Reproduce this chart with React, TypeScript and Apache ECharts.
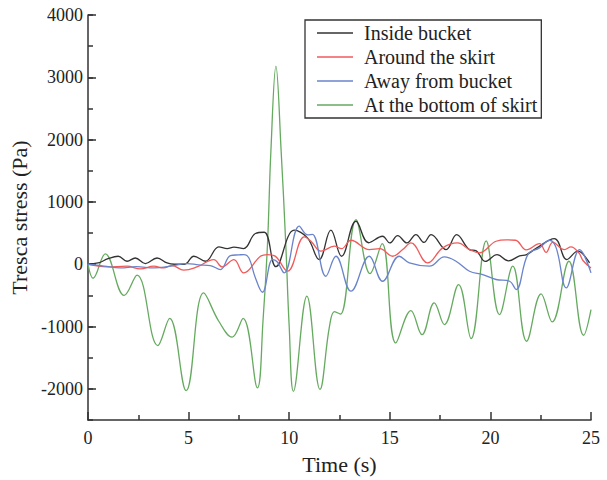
import React, { useEffect, useRef } from "react";
import * as echarts from "echarts";

const seriesNames = ["Inside bucket", "Around the skirt", "Away from bucket", "At the bottom of skirt"];
const seriesColors = ["#333333", "#f25a5a", "#6a84cc", "#66aa60"];

const xTickLabels = [0, 5, 10, 15, 20, 25];
const yTickLabels = [-2000, -1000, 0, 1000, 2000, 3000, 4000];

const insideT = [0, 0.5, 1.0, 1.5, 1.94, 2.35, 2.85, 3.43, 3.93, 4.3, 4.8, 5.26, 5.84, 6.5, 6.92, 7.25, 7.74, 8.32, 8.76, 9.34, 10.25, 10.91, 11.49, 12.07, 12.6, 13.32, 13.95, 14.64, 15.0, 15.39, 15.85, 16.3, 16.7, 17.05, 17.8, 18.32, 18.96, 19.3, 19.75, 20.33, 20.9, 21.45, 21.8, 22.25, 23.18, 23.8, 24.34, 24.93];
const insideV = [5, 20, 90, 128, 48, 100, 10, 100, 20, 0, 0, 128, 48, 278, 252, 273, 252, 493, 513, -40, 546, 422, 75, 546, 128, 690, 345, 449, 342, 460, 342, 476, 350, 476, 235, 476, 235, 215, 45, 155, 55, 135, 155, 250, 410, 75, 209, 21];

const aroundT = [0, 0.95, 1.94, 2.6, 3.27, 3.76, 4.18, 4.76, 5.42, 6.25, 6.67, 7.25, 7.74, 8.57, 8.92, 9.3, 9.92, 10.75, 11.08, 11.58, 12.24, 12.6, 13.07, 13.98, 14.5, 15.14, 15.64, 16.05, 16.88, 17.63, 18.37, 18.96, 19.45, 20.28, 20.8, 21.25, 21.78, 22.44, 22.77, 23.1, 23.68, 24.0, 24.4, 24.6, 25];
const aroundV = [0, -43, -32, -75, -32, -59, -21, -96, -43, 75, -43, 75, -139, 128, 155, 130, -112, 438, 369, 209, 289, 250, 385, 235, 250, 128, 235, 342, 21, 262, 342, 235, 182, 369, 390, 385, 230, 330, 190, 350, 235, 278, 180, 60, -60];

const awayT = [0, 0.8, 1.6, 2.4, 3.3, 4.1, 4.93, 5.5, 6.08, 6.58, 7.08, 7.5, 7.75, 8.0, 8.3, 8.67, 9.17, 9.4, 9.75, 10.5, 10.91, 11.15, 11.82, 12.32, 13.07, 13.98, 14.64, 15.47, 15.97, 16.97, 17.71, 18.29, 18.96, 19.62, 20.28, 20.95, 21.28, 21.86, 22.44, 22.94, 23.27, 23.77, 24.43, 25];
const awayV = [0, -30, -59, -40, -59, -32, 11, -10, -21, -85, 139, 150, 155, 100, -200, -450, 75, 40, -139, 610, 470, 480, -193, 128, -433, 128, -273, 128, 21, -32, 117, 48, -112, -165, -245, -273, -406, 155, 262, 385, 262, -380, 235, -139];

const bottomT = [0, 0.25, 0.86, 1.8, 2.44, 3.47, 4.06, 4.88, 5.75, 6.5, 7.16, 7.71, 8.42, 8.7, 8.92, 9.09, 9.34, 9.6, 9.83, 10.0, 10.21, 10.88, 11.53, 12.0, 12.25, 12.55, 13.32, 14.02, 14.62, 15.3, 16.05, 16.6, 17.21, 17.71, 18.42, 19.04, 19.79, 20.45, 21.11, 21.8, 22.52, 23.07, 23.9, 24.63, 25];
const bottomV = [0, -225, 165, -500, -175, -1305, -870, -2030, -460, -915, -1170, -870, -1985, -900, 316, 1814, 3180, 1814, 316, -1000, -2040, -513, -2010, -1000, -760, -800, 717, -150, 330, -1263, -743, -1130, -620, -968, -326, -1193, 375, -808, -32, -1236, -476, -926, 48, -1140, -727];

const seriesT = [insideT, aroundT, awayT, bottomT];
const seriesV = [insideV, aroundV, awayV, bottomV];

const FONT = "'Liberation Serif', 'Times New Roman', serif";
const AXIS_COLOR = "#333";

export default function App() {
  const ref = useRef<HTMLDivElement>(null);

  useEffect(() => {
    if (!ref.current) return;
    const chart = echarts.init(ref.current, undefined, { renderer: "svg" });
    const series = seriesNames.map((name, i) => ({
      name,
      type: "line",
      xAxisIndex: 0,
      yAxisIndex: 0,
      data: seriesT[i].map((t, j) => [t, seriesV[i][j]]),
      smooth: 0.4,
      symbol: "none",
      showSymbol: false,
      z: i === 3 ? 1 : 2 + i,
      lineStyle: { color: seriesColors[i], width: 1.3 },
      itemStyle: { color: seriesColors[i] },
    }));

    chart.setOption({
      animation: false,
      backgroundColor: "#ffffff",
      textStyle: { fontFamily: FONT },
      grid: { left: 88, right: 16, top: 15, bottom: 59 },
      legend: {
        orient: "vertical",
        left: 305,
        top: 20,
        padding: [3, 4, 3, 12],
        icon: "rect",
        itemWidth: 36,
        itemHeight: 1.5,
        itemGap: 4,
        borderColor: AXIS_COLOR,
        borderWidth: 1.3,
        data: seriesNames,
        textStyle: { fontFamily: FONT, fontSize: 20, color: "#222", lineHeight: 20, padding: [0, 0, 0, 6] },
      },
      xAxis: [
        {
          type: "value",
          min: 0,
          max: 25,
          interval: 5,
          name: "Time (s)",
          nameLocation: "middle",
          nameGap: 33,
          nameTextStyle: { fontFamily: FONT, fontSize: 22, color: "#222" },
          axisLine: { onZero: false, lineStyle: { color: AXIS_COLOR, width: 1.5 } },
          axisTick: { inside: true, length: 8, lineStyle: { color: AXIS_COLOR, width: 1.5 } },
          minorTick: { show: true, splitNumber: 2, length: 5, lineStyle: { color: AXIS_COLOR, width: 1.5 } },
          axisLabel: {
            fontFamily: FONT,
            fontSize: 18,
            color: "#222",
            margin: 9,
            formatter: (v: number) => (xTickLabels.includes(v) ? String(v) : ""),
          },
          splitLine: { show: false },
          minorSplitLine: { show: false },
        },
      ],
      yAxis: [
        {
          type: "value",
          min: -2500,
          max: 4000,
          interval: 500,
          name: "Tresca stress (Pa)",
          nameLocation: "middle",
          nameGap: 50,
          nameTextStyle: { fontFamily: FONT, fontSize: 22, color: "#222" },
          axisLine: { show: true, onZero: false, lineStyle: { color: AXIS_COLOR, width: 1.5 } },
          axisTick: { show: true, inside: true, length: 5, lineStyle: { color: AXIS_COLOR, width: 1.5 } },
          axisLabel: {
            fontFamily: FONT,
            fontSize: 18,
            color: "#222",
            margin: 5,
            formatter: (v: number) => (yTickLabels.includes(v) ? String(v) : ""),
          },
          splitLine: { show: false },
        },
        {
          type: "value",
          position: "left",
          min: -2500,
          max: 4000,
          interval: 500,
          axisLine: { show: false, onZero: false },
          axisLabel: { show: false },
          axisTick: {
            show: true,
            inside: true,
            length: 8,
            customValues: yTickLabels,
            lineStyle: { color: AXIS_COLOR, width: 1.5 },
          },
          splitLine: { show: false },
        },
      ],
      series,
    });
    return () => chart.dispose();
  }, []);

  return <div ref={ref} style={{ position: "absolute", left: 0, top: 0, width: 607, height: 480 }} />;
}
